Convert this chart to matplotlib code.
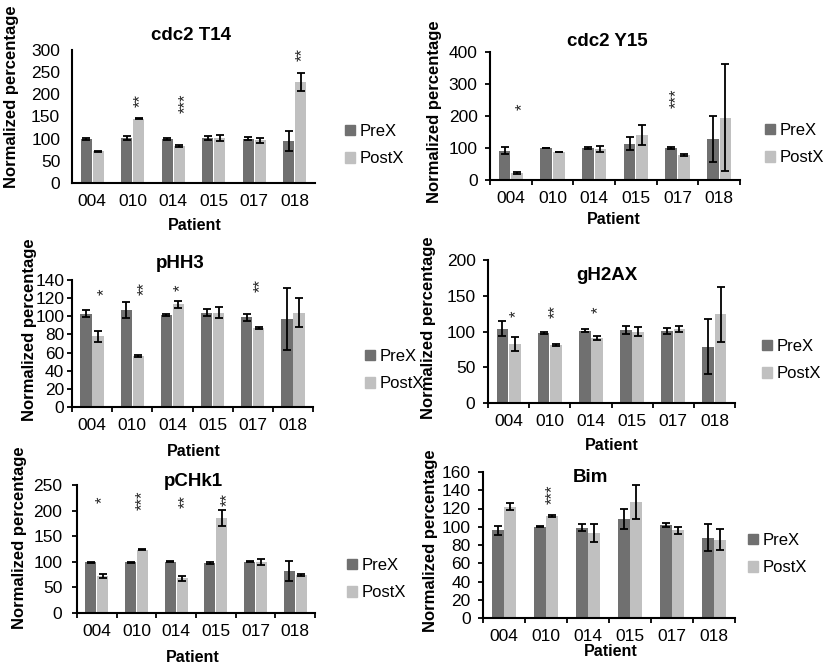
import numpy as np
import matplotlib
matplotlib.use("Agg")
import matplotlib.pyplot as plt
from matplotlib.patches import Patch

plt.rcParams['font.family'] = ['Liberation Sans', 'DejaVu Sans']

patients = ["004", "010", "014", "015", "017", "018"]

# cdc2 T14
t14_pre = [100, 102, 100, 102, 100, 95]
t14_pre_err = [2, 5, 2, 4, 3, 22]
t14_post = [72, 145, 84, 102, 96, 228]
t14_post_err = [1, 1, 2, 7, 5, 20]
t14_stars = [(1.18, 187, "**"), (2.29, 180, "***"), (5.20, 289, "**")]

# cdc2 Y15
y15_pre = [92, 100, 100, 113, 100, 128]
y15_pre_err = [12, 1, 3, 20, 2, 73]
y15_post = [22, 88, 96, 140, 78, 195]
y15_post_err = [3, 1, 10, 32, 3, 168]
y15_stars = [(0.27, 229, "*"), (3.98, 255, "***")]

# pHH3
phh3_pre = [103, 107, 101, 104, 99, 97]
phh3_pre_err = [4, 9, 1, 4, 4, 34]
phh3_post = [78, 56, 113, 104, 87, 104]
phh3_post_err = [6, 1, 4, 6, 1, 16]
phh3_stars = [(0.30, 127, "*"), (1.29, 131, "**"), (2.21, 131, "*"), (4.18, 134, "**")]

# gH2AX
gh2ax_pre = [104, 98, 101, 102, 101, 79]
gh2ax_pre_err = [10, 2, 2, 5, 4, 39]
gh2ax_post = [83, 81, 91, 100, 103, 124]
gh2ax_post_err = [10, 1, 3, 6, 4, 38]
gh2ax_stars = [(0.20, 125, "*"), (1.13, 128, "**"), (2.17, 131, "*")]

# pCHk1
pchk1_pre = [99, 99, 100, 98, 100, 82]
pchk1_pre_err = [1, 1, 1, 2, 1, 20]
pchk1_post = [72, 124, 68, 185, 99, 75]
pchk1_post_err = [4, 1, 5, 16, 6, 2]
pchk1_stars = [(0.15, 222, "*"), (1.16, 221, "***"), (2.22, 218, "**"), (3.28, 221, "**")]

# Bim
bim_pre = [96, 100, 99, 109, 102, 88]
bim_pre_err = [5, 0.5, 4, 11, 2, 15]
bim_post = [122, 112, 93, 127, 96, 86]
bim_post_err = [4, 1, 10, 19, 4, 11]
bim_stars = [(1.14, 136, "***")]

PRE_COLOR = '#707070'
POST_COLOR = '#c0c0c0'
W, H = 825, 666

fig = plt.figure(figsize=(W / 100, H / 100), dpi=100)


def fx(x):
    return x / W


def fy(y):
    return 1 - y / H


def draw_panel(name, pre, pre_err, post, post_err, stars, ymax, ystep,
               rect, title_xy, ylab_xy, xlab_xy, leg_xy, ticks=True, ypad=5.5):
    left, top, right, bottom = rect
    ax = fig.add_axes([fx(left), fy(bottom), fx(right - left), (bottom - top) / H])
    x = np.arange(len(patients))
    ekw = dict(ecolor='black', elinewidth=1.3, capsize=2.8, capthick=1.3)
    ax.bar(x - 0.15, pre, 0.28, color=PRE_COLOR, yerr=pre_err, error_kw=ekw, label='PreX')
    ax.bar(x + 0.15, post, 0.28, color=POST_COLOR, yerr=post_err, error_kw=ekw, label='PostX')
    for sx, sy, txt in stars:
        ax.text(sx, sy, txt, rotation=90, ha='center', va='center', fontsize=12, color='#222222')
    ax.set_xlim(-0.5, 5.5)
    ax.set_ylim(0, ymax)
    ax.set_yticks(np.arange(0, ymax + 1, ystep))
    ax.set_xticks(x)
    ax.set_xticklabels(patients)
    for s in ['top', 'right']:
        ax.spines[s].set_visible(False)
    for s in ['left', 'bottom']:
        ax.spines[s].set_linewidth(1.5)
        ax.spines[s].set_color('black')
    ax.tick_params(axis='both', labelsize=12.5, colors='black')
    ax.tick_params(axis='x', which='major', length=0, pad=8)
    if ticks:
        ax.set_xticks(np.arange(-0.5, 6, 1), minor=True)
        ax.tick_params(axis='x', which='minor', length=3.5, width=1.3)
        ax.tick_params(axis='y', length=3.5, width=1.3, pad=ypad)
    else:
        ax.tick_params(axis='y', length=0, pad=8.5)
    fig.text(fx(title_xy[0]), fy(title_xy[1]), name, ha='center', va='center',
             fontsize=13.5, fontweight='bold')
    fig.text(fx(ylab_xy[0]), fy(ylab_xy[1]), "Normalized percentage", rotation=90,
             ha='center', va='center', fontsize=12, fontweight='bold')
    fig.text(fx(xlab_xy[0]), fy(xlab_xy[1]), "Patient", ha='center', va='center',
             fontsize=11.5, fontweight='bold')
    handles = [Patch(color=PRE_COLOR, label='PreX'), Patch(color=POST_COLOR, label='PostX')]
    ax.legend(handles=handles, loc='center left', bbox_to_anchor=(fx(leg_xy[0]), fy(leg_xy[1])),
              bbox_transform=fig.transFigure, frameon=False, fontsize=12,
              handlelength=0.6, handleheight=0.6, handletextpad=0.25,
              labelspacing=0.75, borderpad=0, borderaxespad=0)
    return ax


draw_panel("cdc2 T14", t14_pre, t14_pre_err, t14_post, t14_post_err, t14_stars, 300, 50,
           (72, 50, 315, 183), (191, 35), (12, 97), (195, 225), (345, 145), ticks=False)
draw_panel("cdc2 Y15", y15_pre, y15_pre_err, y15_post, y15_post_err, y15_stars, 400, 100,
           (490, 52, 740, 180), (607, 42), (435, 112), (614, 220), (765, 144))
draw_panel("pHH3", phh3_pre, phh3_pre_err, phh3_post, phh3_post_err, phh3_stars, 140, 20,
           (72, 280, 313, 407), (180, 263), (30, 330), (194, 452), (365, 370), ypad=2)
draw_panel("gH2AX", gh2ax_pre, gh2ax_pre_err, gh2ax_post, gh2ax_post_err, gh2ax_stars, 200, 50,
           (488, 260, 735, 403), (607, 275), (428, 328), (612, 445), (762, 360))
draw_panel("pCHk1", pchk1_pre, pchk1_pre_err, pchk1_post, pchk1_post_err, pchk1_stars, 250, 50,
           (77, 485, 315, 613), (193, 482), (20, 538), (193, 657), (347, 579), ypad=7)
draw_panel("Bim", bim_pre, bim_pre_err, bim_post, bim_post_err, bim_stars, 160, 20,
           (483, 472, 735, 618), (590, 477), (430, 541), (611, 652), (748, 554))

fig.savefig("out.png", dpi=100)
